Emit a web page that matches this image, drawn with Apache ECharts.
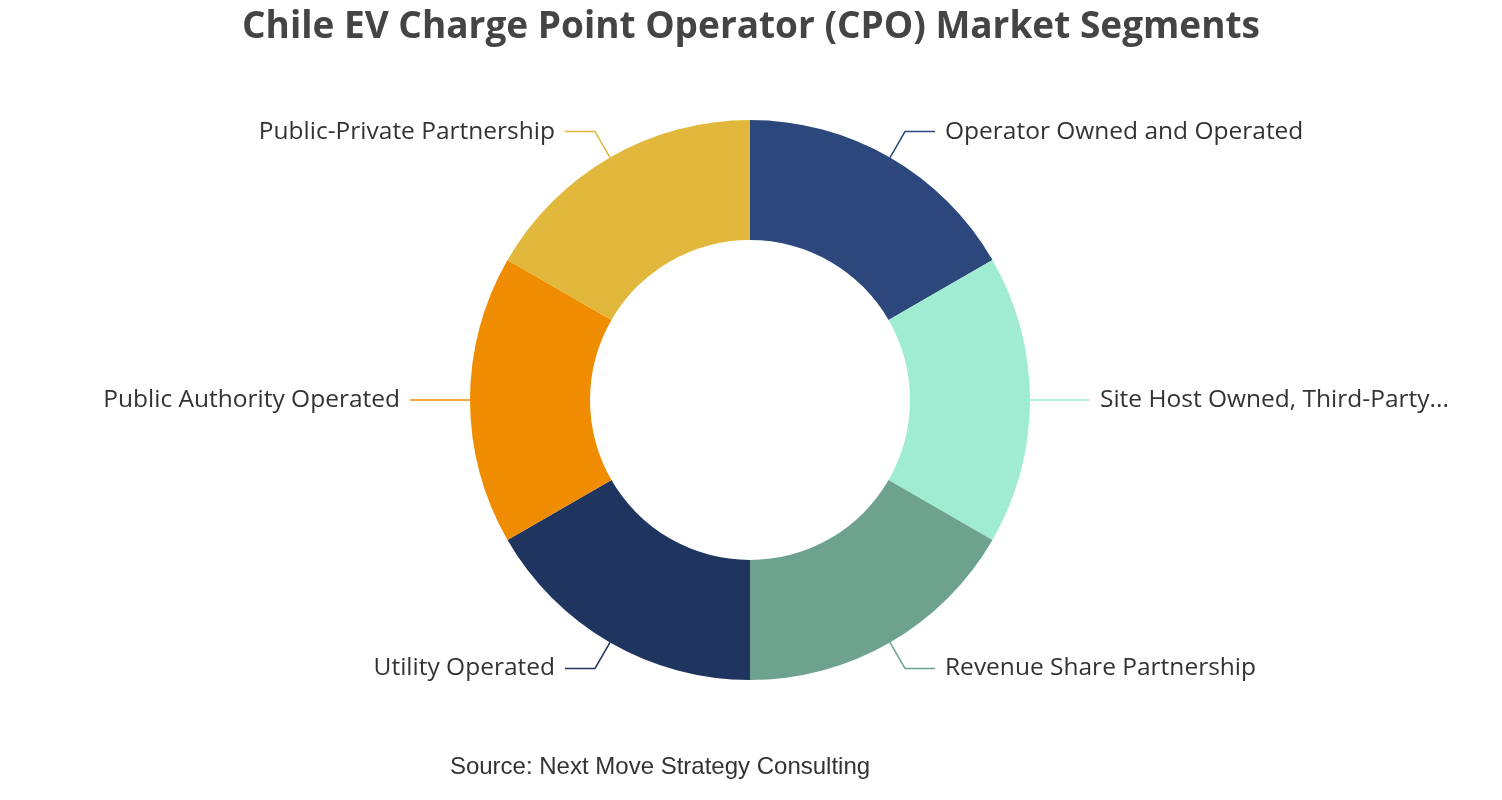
<!DOCTYPE html>
<html><head><meta charset="utf-8">
<script src="https://cdn.jsdelivr.net/npm/echarts@6/dist/echarts.min.js"></script>
<style>html,body{margin:0;padding:0;background:#fff}#c{width:1502px;height:800px}</style>
</head><body><div id="c"></div>
<script>
const categories = ["Operator Owned and Operated","Site Host Owned, Third-Party Operated","Revenue Share Partnership","Utility Operated","Public Authority Operated","Public-Private Partnership"];
const values = [1,1,1,1,1,1];
const colors = ["#2b477b","#a0ecd2","#6da38e","#1f355f","#f08c00","#e1b83b"];
const chart = echarts.init(document.getElementById('c'));
chart.setOption({
  animation:false,
  title:{text:"Chile EV Charge Point Operator (CPO) Market Segments",left:'center',top:4,
    textStyle:{fontFamily:'Open Sans',fontWeight:'bold',fontSize:37,color:'#444'}},
  graphic:[{type:'text',x:660,y:767,style:{text:'Source: Next Move Strategy Consulting',
    fontFamily:'Liberation Sans',fontSize:24,fill:'#333',textAlign:'center',textVerticalAlign:'middle'}}],
  series:[{type:'pie',center:[750,400],radius:[160,280],startAngle:90,clockwise:true,
    data:categories.map((n,i)=>{
      const d={name:n,value:values[i],itemStyle:{color:colors[i]}};
      if(n.length>30) d.label={width:350,overflow:'truncate',ellipsis:'...'};
      return d;
    }),
    label:{show:true,fontFamily:'Open Sans',fontSize:24.5,color:'#333',distanceToLabelLine:10},
    labelLine:{show:true,length:30,length2:30,lineStyle:{width:1.5}},
    emphasis:{disabled:true}
  }]
});
</script></body></html>
